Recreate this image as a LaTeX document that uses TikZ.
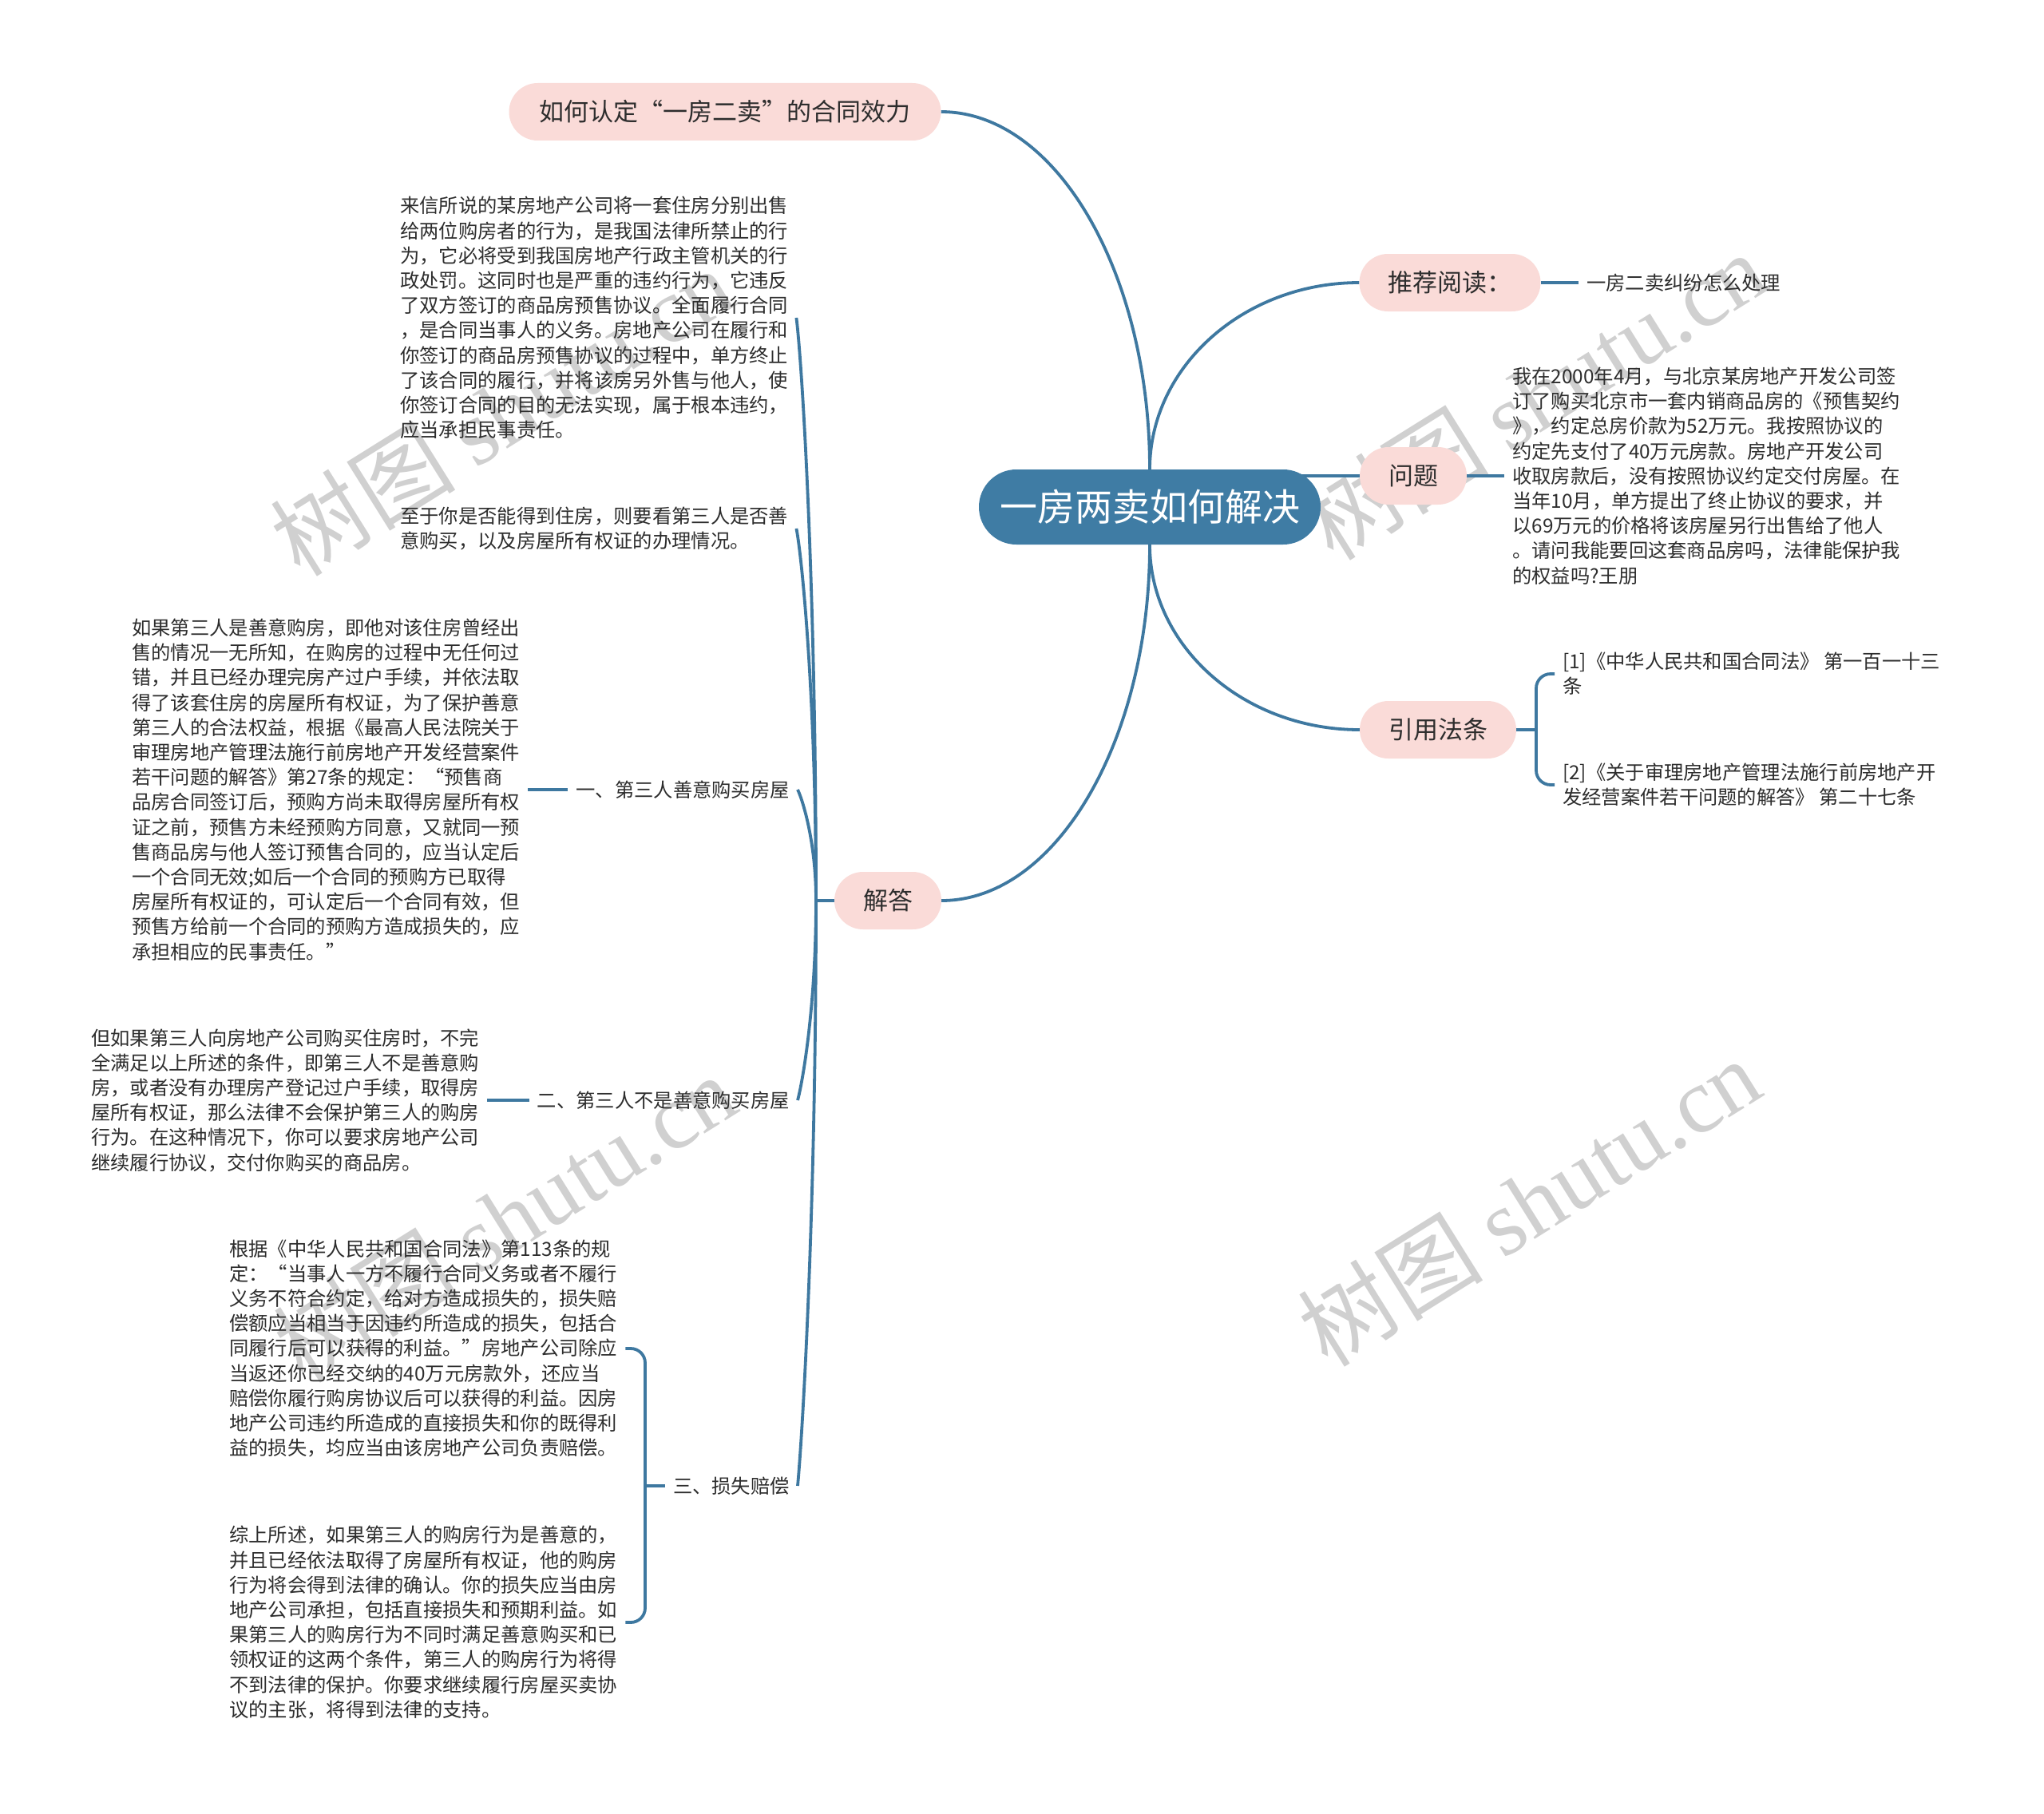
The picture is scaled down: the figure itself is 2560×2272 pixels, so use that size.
\documentclass[tikz,border=0pt]{standalone}
\usepackage{fontspec}
\setmainfont{Noto Sans CJK SC}
\newfontfamily\wmserif{Liberation Serif}
\definecolor{pinkc}{RGB}{250,219,216}
\definecolor{rootc}{RGB}{63,124,164}
\definecolor{linec}{RGB}{62,120,160}
\definecolor{txtc}{RGB}{45,45,45}
\definecolor{wmc}{RGB}{208,208,208}
\pgfdeclarelayer{wm}
\pgfdeclarelayer{bg}
\pgfsetlayers{wm,bg,main}
\begin{document}
\begin{tikzpicture}[x=1pt,y=-1pt,
  pill/.style={fill=pinkc, rounded corners=36pt, minimum height=72pt, inner sep=0pt,
    font=\fontsize{31}{36}\selectfont, text=txtc},
  rootnode/.style={fill=rootc, rounded corners=47pt, minimum height=94pt, minimum width=428pt,
    inner sep=0pt, font=\fontsize{47}{56}\selectfont, text=white},
  leaf/.style={font=\fontsize{24.3}{31.2}\selectfont, text=txtc, align=left, inner xsep=10pt, inner ysep=2pt},
  conn/.style={draw=linec, line width=3.8pt},
  wmark/.style={text=wmc, font=\fontsize{116}{116}\selectfont, rotate=32, inner sep=0pt}]
\useasboundingbox (0,0) rectangle (2560,2272);

% background and watermarks
\begin{pgfonlayer}{wm}
\fill[white] (0,0) rectangle (2560,2272);
\node[wmark] (wm1) at (628,515) {树图 {\wmserif shutu.cn}};
\node[wmark] (wm2) at (1922,495) {树图 {\wmserif shutu.cn}};
\node[wmark] (wm3) at (632,1525) {树图 {\wmserif shutu.cn}};
\node[wmark] (wm4) at (1915,1505) {树图 {\wmserif shutu.cn}};
\end{pgfonlayer}

% main nodes
\node[rootnode] (root) at (1440,635) {一房两卖如何解决};
\node[pill, minimum width=541pt] (top) at (908,140) {如何认定“一房二卖”的合同效力};
\node[pill, minimum width=227pt] (tuijian) at (1816,354) {推荐阅读：};
\node[pill, minimum width=134pt] (wenti) at (1770,596) {问题};
\node[pill, minimum width=196pt] (yinyong) at (1801,914) {引用法条};
\node[pill, minimum width=134pt] (jieda) at (1112,1128) {解答};

% right leaves
\node[leaf, anchor=west] (tjleaf) at (1977,354) {一房二卖纠纷怎么处理};
\node[leaf, anchor=west] (wtext) at (1884,596) {我在2000年4月，与北京某房地产开发公司签\\
订了购买北京市一套内销商品房的《预售契约\\
》，约定总房价款为52万元。我按照协议的\\
约定先支付了40万元房款。房地产开发公司\\
收取房款后，没有按照协议约定交付房屋。在\\
当年10月，单方提出了终止协议的要求，并\\
以69万元的价格将该房屋另行出售给了他人\\
。请问我能要回这套商品房吗，法律能保护我\\
的权益吗?王朋};
\node[leaf, anchor=west] (law1) at (1947,844) {[1]《中华人民共和国合同法》 第一百一十三\\
条};
\node[leaf, anchor=west] (law2) at (1947,983) {[2]《关于审理房地产管理法施行前房地产开\\
发经营案件若干问题的解答》 第二十七条};

% left leaves
\node[leaf, anchor=west] (t1) at (491,398) {来信所说的某房地产公司将一套住房分别出售\\
给两位购房者的行为，是我国法律所禁止的行\\
为，它必将受到我国房地产行政主管机关的行\\
政处罚。这同时也是严重的违约行为，它违反\\
了双方签订的商品房预售协议。全面履行合同\\
，是合同当事人的义务。房地产公司在履行和\\
你签订的商品房预售协议的过程中，单方终止\\
了该合同的履行，并将该房另外售与他人，使\\
你签订合同的目的无法实现，属于根本违约，\\
应当承担民事责任。};
\node[leaf, anchor=west] (t2) at (491,662) {至于你是否能得到住房，则要看第三人是否善\\
意购买，以及房屋所有权证的办理情况。};
\node[leaf, anchor=east] (l1) at (999,989) {一、第三人善意购买房屋};
\node[leaf, anchor=west] (t3) at (155,989) {如果第三人是善意购房，即他对该住房曾经出\\
售的情况一无所知，在购房的过程中无任何过\\
错，并且已经办理完房产过户手续，并依法取\\
得了该套住房的房屋所有权证，为了保护善意\\
第三人的合法权益，根据《最高人民法院关于\\
审理房地产管理法施行前房地产开发经营案件\\
若干问题的解答》第27条的规定：“预售商\\
品房合同签订后，预购方尚未取得房屋所有权\\
证之前，预售方未经预购方同意，又就同一预\\
售商品房与他人签订预售合同的，应当认定后\\
一个合同无效;如后一个合同的预购方已取得\\
房屋所有权证的，可认定后一个合同有效，但\\
预售方给前一个合同的预购方造成损失的，应\\
承担相应的民事责任。”};
\node[leaf, anchor=east] (l2) at (999,1378) {二、第三人不是善意购买房屋};
\node[leaf, anchor=west] (t4) at (104,1378) {但如果第三人向房地产公司购买住房时，不完\\
全满足以上所述的条件，即第三人不是善意购\\
房，或者没有办理房产登记过户手续，取得房\\
屋所有权证，那么法律不会保护第三人的购房\\
行为。在这种情况下，你可以要求房地产公司\\
继续履行协议，交付你购买的商品房。};
\node[leaf, anchor=east] (l3) at (999,1861) {三、损失赔偿};
\node[leaf, anchor=west] (t5) at (277,1689) {根据《中华人民共和国合同法》第113条的规\\
定：“当事人一方不履行合同义务或者不履行\\
义务不符合约定，给对方造成损失的，损失赔\\
偿额应当相当于因违约所造成的损失，包括合\\
同履行后可以获得的利益。”房地产公司除应\\
当返还你已经交纳的40万元房款外，还应当\\
赔偿你履行购房协议后可以获得的利益。因房\\
地产公司违约所造成的直接损失和你的既得利\\
益的损失，均应当由该房地产公司负责赔偿。};
\node[leaf, anchor=west] (t6) at (277,2032) {综上所述，如果第三人的购房行为是善意的，\\
并且已经依法取得了房屋所有权证，他的购房\\
行为将会得到法律的确认。你的损失应当由房\\
地产公司承担，包括直接损失和预期利益。如\\
果第三人的购房行为不同时满足善意购买和已\\
领权证的这两个条件，第三人的购房行为将得\\
不到法律的保护。你要求继续履行房屋买卖协\\
议的主张，将得到法律的支持。};

\coordinate (sp) at (1022,1128);
\coordinate (yx) at (1924,0);
\coordinate (sx) at (808,0);

\begin{pgfonlayer}{bg}
\draw[conn] (root.north) .. controls (1440,342) and (1323,140) .. (top.east);
\draw[conn] (root.north) .. controls (1440,459) and (1558,354) .. (tuijian.west);
\draw[conn] (wenti.west -| root.center) -- (wenti.west);
\draw[conn] (root.south) .. controls (1440,810) and (1558,914) .. (yinyong.west);
\draw[conn] (root.south) .. controls (1440,927) and (1323,1128) .. (jieda.east);

\draw[conn] (tuijian.east) -- (tjleaf.west);
\draw[conn] (wenti.east) -- (wtext.west);
\draw[conn] (yinyong.east) -- (yinyong.east -| yx);
\draw[conn, rounded corners=18pt] (law1.west) -| (yinyong.east -| yx) |- (law2.west);

\draw[conn] (jieda.west) -- (sp);
\foreach \c/\yc in {t1/398,t2/662,l1/989,l2/1378,l3/1861}{
  \pgfmathsetmacro{\ya}{\yc+0.45*(1128-\yc)}
  \pgfmathsetmacro{\yb}{\yc+0.07*(1128-\yc)}
  \draw[conn] (sp) .. controls (1022,\ya) and (1004,\yb) .. (\c.east);
}
\draw[conn] (t3.east) -- (l1.west);
\draw[conn] (t4.east) -- (l2.west);
\draw[conn] (l3.west) -- (l3.west -| sx);
\draw[conn, rounded corners=18pt] (t5.east) -| (l3.west -| sx) |- (t6.east);
\end{pgfonlayer}
\end{tikzpicture}
\end{document}
